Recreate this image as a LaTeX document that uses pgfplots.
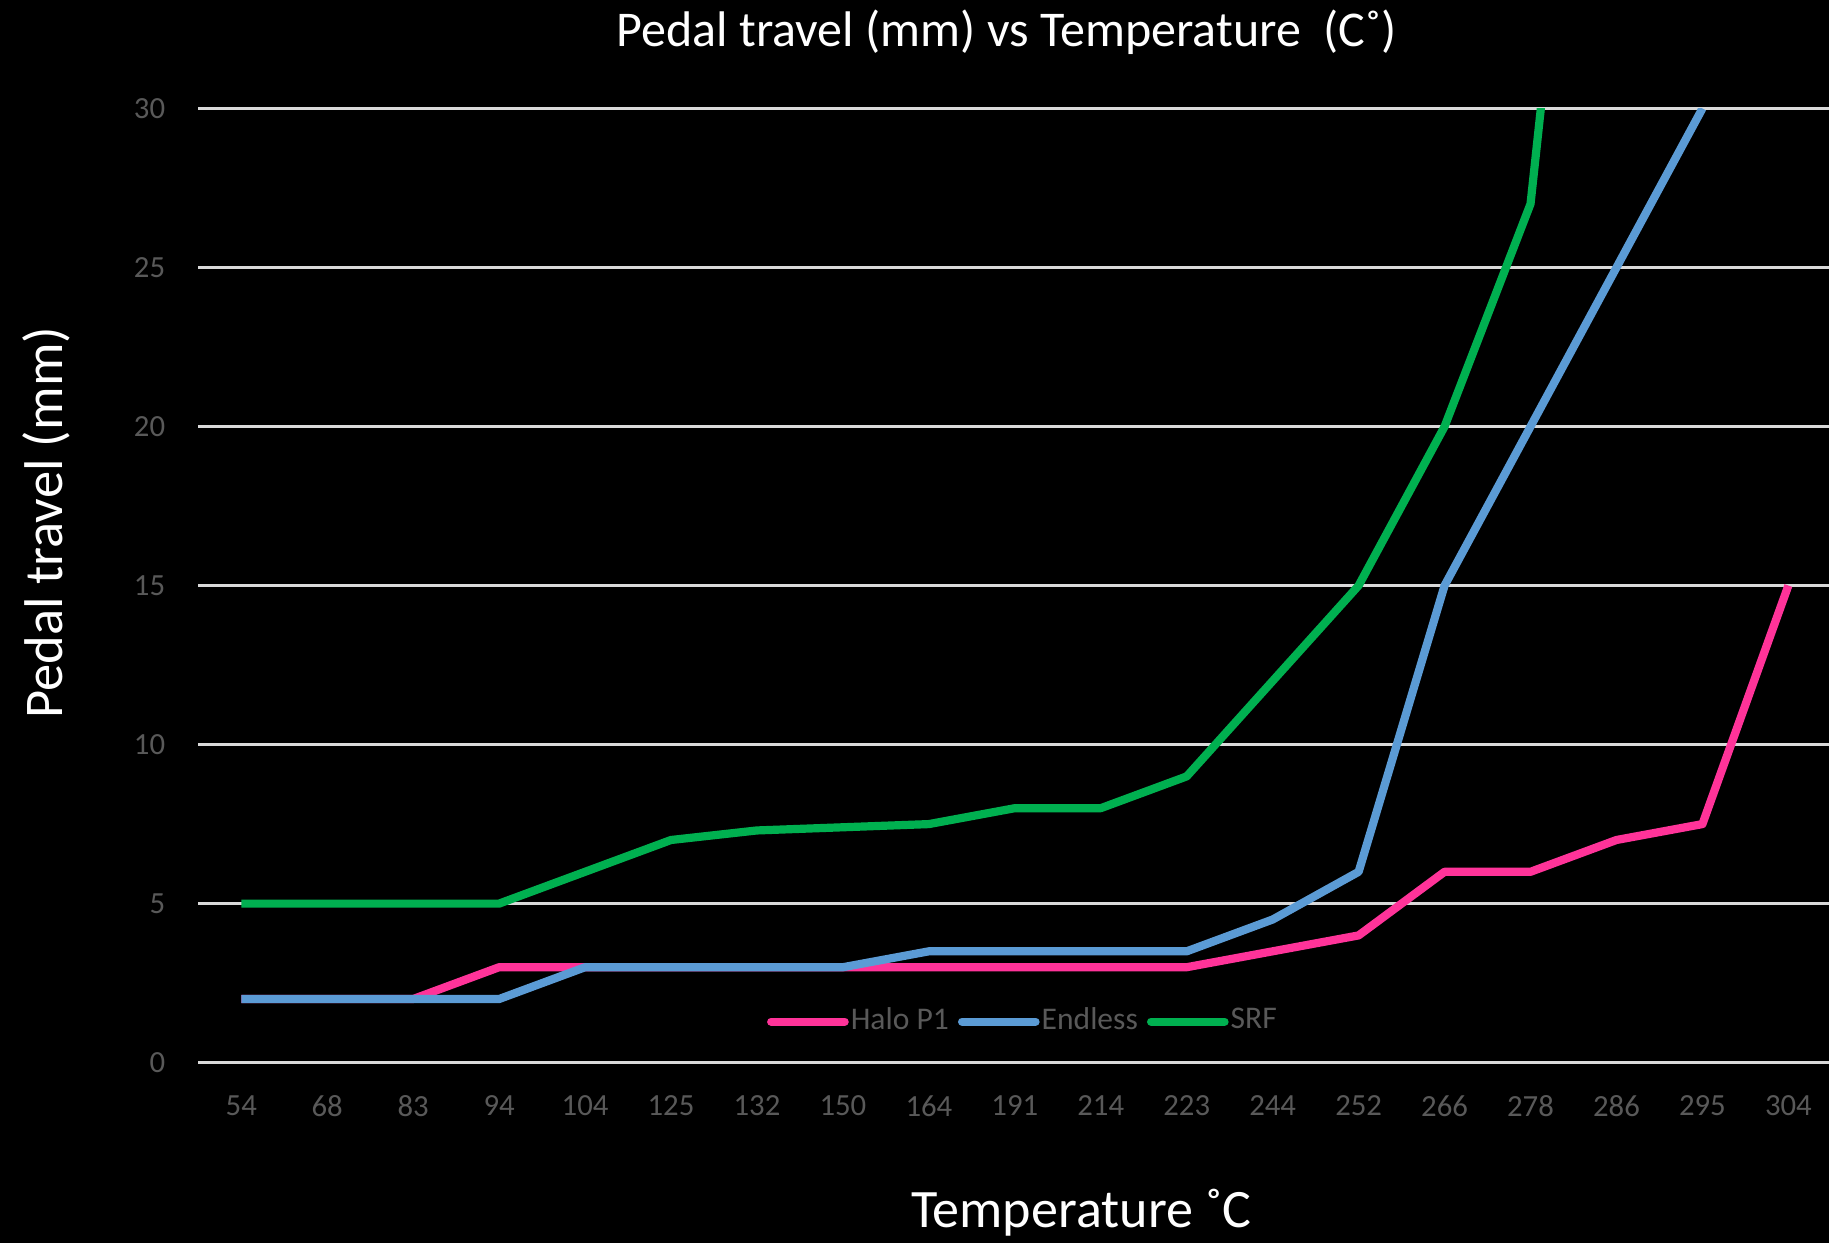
\documentclass[border=0pt]{standalone}
\usepackage{fontspec}
\setmainfont{Carlito}
\usepackage{pgfplots}
\pgfplotsset{compat=1.18}

\definecolor{halo}{HTML}{FF3399}
\definecolor{endless}{HTML}{5B9BD5}
\definecolor{srf}{HTML}{00B050}
\definecolor{gridc}{HTML}{D9D9D9}
\definecolor{tickc}{HTML}{595959}

\begin{document}
\begin{tikzpicture}
% black page behind the chart
\fill[black] (-17mm,-15.5mm) rectangle (139.8mm,91.1mm);
\begin{axis}[
    at={(0,0)}, anchor=south west,
    scale only axis, width=140mm, height=81.8mm,
    xmin=-0.5, xmax=18.5, ymin=0, ymax=30,
    xtick={0,...,18},
    xticklabels={54,68,83,94,104,125,132,150,164,191,214,223,244,252,266,278,286,295,304},
    ytick={0,5,...,30},
    axis line style={draw=none},
    major tick length=0pt,
    ymajorgrids, grid style={gridc, line width=0.65pt},
    tick label style={font=\fontsize{7.5}{9}\selectfont, text=tickc},
    xticklabel style={anchor=center, yshift=-3.7mm},
    yticklabel style={anchor=east, xshift=-1.6mm},
    /pgf/number format/assume math mode=true,
    legend columns=-1,
    legend style={at={(0.505,0.043)}, anchor=center, draw=none, fill=none,
        text=tickc, font=\fontsize{7.7}{9}\selectfont, inner sep=0pt,
        nodes={inner xsep=0.5pt},
        /tikz/every even column/.append style={column sep=0.6mm}},
    legend image code/.code={\draw[#1, line cap=round] (0mm,0mm) -- (6.3mm,0mm);},
    every axis plot/.append style={line width=2pt, line join=round},
]
\addplot[halo] coordinates {
    (0,2) (1,2) (2,2) (3,3) (4,3) (5,3) (6,3) (7,3) (8,3) (9,3)
    (10,3) (11,3) (12,3.5) (13,4) (14,6) (15,6) (16,7) (17,7.5) (18,15)};
\addlegendentry{Halo P1}
\addplot[endless] coordinates {
    (0,2) (1,2) (2,2) (3,2) (4,3) (5,3) (6,3) (7,3) (8,3.5) (9,3.5)
    (10,3.5) (11,3.5) (12,4.5) (13,6) (14,15) (15,20) (16,25) (17,30)};
\addlegendentry{Endless}
\addplot[srf] coordinates {
    (0,5) (1,5) (2,5) (3,5) (4,6) (5,7) (6,7.3) (7,7.4) (8,7.5) (9,8)
    (10,8) (11,9) (12,12) (13,15) (14,20) (15,27) (16,52)};
\addlegendentry{SRF}
\end{axis}
\node[white, font=\fontsize{12.2}{14}\selectfont] at (69.3mm,88.3mm)
    {Pedal travel (mm) vs Temperature\ \ (C˚)};
\node[white, font=\fontsize{13.2}{15}\selectfont] at (75.7mm,-12.9mm)
    {Temperature ˚C};
\node[white, font=\fontsize{13.3}{15}\selectfont, rotate=90] at (-13mm,46.3mm)
    {Pedal travel (mm)};
\pgfresetboundingbox
\useasboundingbox (-17mm,-15.5mm) rectangle (139.8mm,91.1mm);
\end{tikzpicture}
\end{document}
